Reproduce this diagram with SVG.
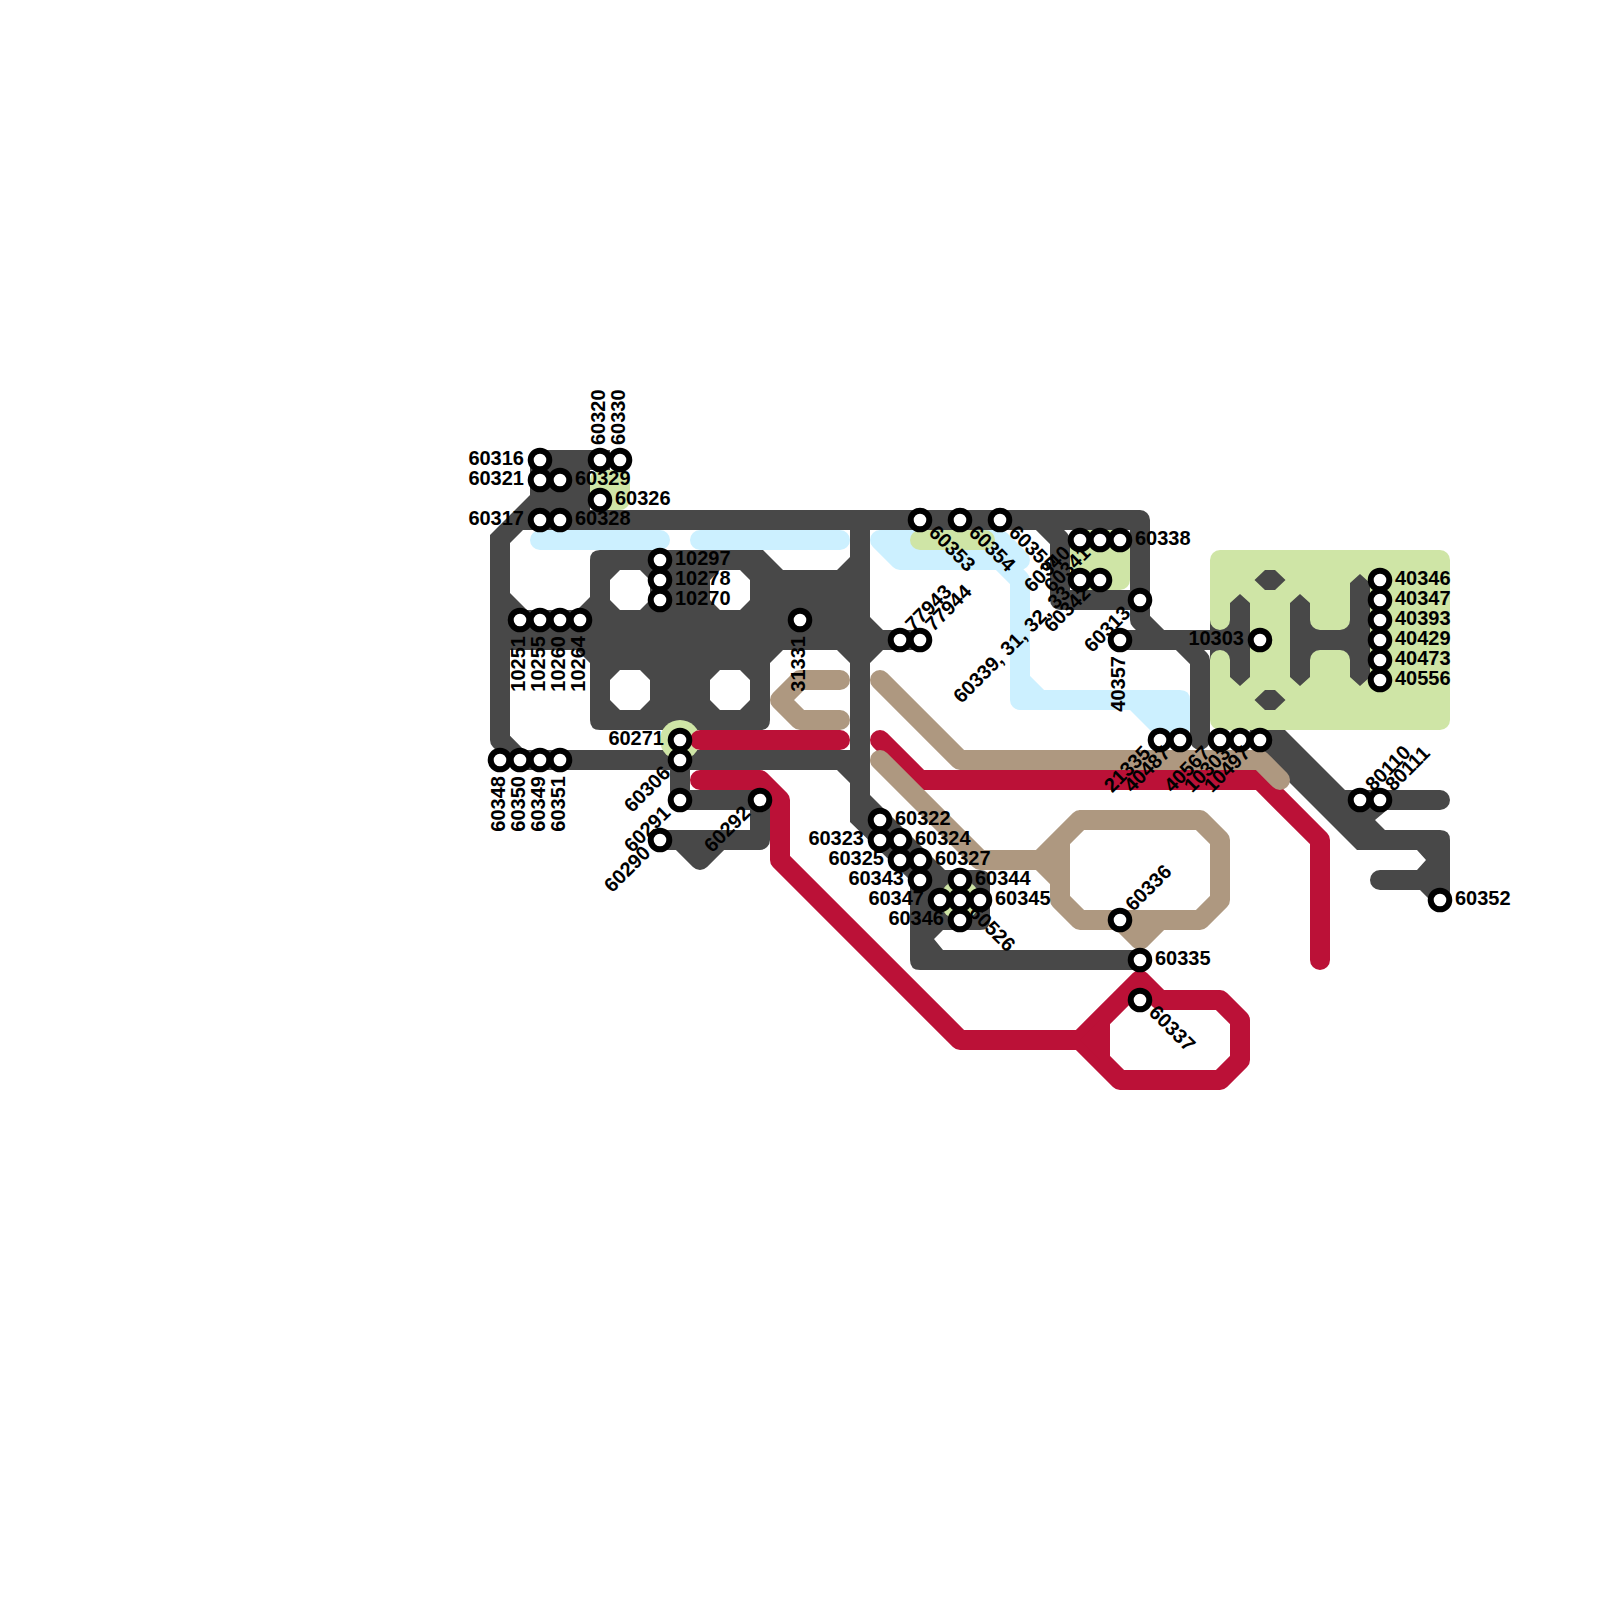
<svg xmlns="http://www.w3.org/2000/svg" width="1600" height="1600" viewBox="0 0 1600 1600">
<style>
text{font-family:"Liberation Sans",Arial,sans-serif;font-size:20px;font-weight:bold;fill:#000}
.n{fill:#fff;stroke:#000;stroke-width:6}
.e{text-anchor:end}
.ln{fill:none;stroke-width:20;stroke-linecap:round;stroke-linejoin:round}
.dk{stroke:#484848}.bl{stroke:#ccf0ff}.gr{stroke:#cfe5a6}.tn{stroke:#ae9880}.rd{stroke:#bb1137}
.fdk{fill:#484848}.fbl{fill:#ccf0ff}.fgr{fill:#cfe5a6}.ftn{fill:#ae9880}.frd{fill:#bb1137}
</style>
<defs>
<g id="st"><circle class="n" r="9.300"/></g>
</defs>
<rect width="1600" height="1600" fill="#fff"/>
<g id="connectors">
<path class="ln bl" d="M540,540H660M700,540H840M880,540H1000L1020,560M880,540L900,560H1000L1020,580V700H1140L1170,730M1020,680L1040,700"/>
<path class="fbl" d="M1130,690H1180Q1190,690 1190,700V730L1180,740H1160L1130,710Z"/>
<rect class="fgr" x="590" y="470" width="40" height="40" rx="10"/>
<rect class="fgr" x="910" y="530" width="85" height="20" rx="10"/>
<rect class="fgr" x="1070" y="530" width="60" height="60" rx="10"/>
<rect class="fgr" x="1210" y="550" width="240" height="180" rx="10"/>
<path class="ln dk" d="M520,520H1140V620L1160,640H1180L1200,660V740M1120,640H1240M500,560V740L520,760H860M1040,520L1060,540V600H1140M860,520V800M680,760V800H760V840H720L700,860L680,840H660M660,840H760"/>
<path class="fdk" d="M540,450H610V470H590V510H530V495L490,535V560H510V543L523,530H540V450ZM530,460Q530,450 540,450V510H530Z"/>
<path class="fdk" fill-rule="evenodd" d="M600,550H763L783,570H837L850,557V663L837,650H783L770,663V720Q770,730 760,730H600Q590,730 590,720V663L577,650H500V593H510L527,610H577L590,597V560Q590,550 600,550ZM620,570L610,580V600L620,610H640L650,600V580L640,570ZM720,570L710,580V600L720,610H740L750,600V580L740,570ZM620,670L610,680V700L620,710H640L650,700V680L640,670ZM720,670L710,680V700L720,710H740L750,700V680L740,670Z"/>
<path class="fdk" d="M870,617L883,630H920V650H883L870,663ZM837,770L850,783V770Z"/>
<path class="fdk" d="M850,780H870V795L945,870H980Q990,870 990,880V920Q990,930 980,930H943L934,939L943,950H1140V970H920Q910,970 910,960V880L850,822Z"/>
<circle class="fgr" cx="960" cy="900" r="20"/>
<circle class="fgr" cx="680" cy="740" r="20"/>
<path class="fdk" d="M1230,603L1240,594L1250,603V677L1240,686L1230,677V650H1210V630H1230ZM1290,603L1300,594L1310,603V630H1350V583L1360,574L1370,583V677L1360,686L1350,677V650H1310V677L1300,686L1290,677ZM1254.500,580L1265,570H1275L1285.500,580L1275,590H1265ZM1254.500,700L1265,690H1275L1285.500,700L1275,710H1265Z"/>
<path class="fdk" d="M1230,630V620A10,10 0 0 1 1220,630ZM1210,630V620A10,10 0 0 0 1220,630ZM1230,650V660A10,10 0 0 0 1220,650ZM1210,650V660A10,10 0 0 1 1220,650ZM1310,630V620A10,10 0 0 0 1320,630ZM1350,630V620A10,10 0 0 1 1340,630ZM1310,650V660A10,10 0 0 1 1320,650ZM1350,650V660A10,10 0 0 0 1340,650Z"/>
<path class="fdk" d="M1250,730H1285L1345,790H1440A10,10 0 0 1 1440,810H1387L1375,820L1385,830H1440Q1450,830 1450,840V900H1430L1420,890H1380A10,10 0 0 1 1380,870H1417L1426,860L1417,850H1357L1247,740Z"/>
<path class="ln rd" d="M700,740H840M700,780H760L780,800V860L960,1040H1080L1140,980L1160,1000H1220L1240,1020V1060L1220,1080H1120L1080,1040M1120,1000L1100,1020V1060L1120,1080M880,740L920,780H1260L1320,840V960"/>
<path class="frd" d="M1080,1040L1100,1020V1060ZM1140,980L1160,1000H1120Z"/>
<path class="ln tn" d="M840,680H800L780,700L800,720H840M880,680L960,760H1260L1280,780M880,760L980,860H1040L1080,820H1200L1220,840V900L1200,920H1080L1060,900V840L1080,820M1040,860L1060,880M1120,920L1140,940L1160,920"/>
<path class="ftn" d="M1040,860L1060,840V880ZM1120,920H1160L1140,940Z"/>
</g>
<g id="nodes">
<g id="n60526" transform="translate(960,900)"><use href="#st"/><text x="15" y="4" transform="rotate(45)">60526</text></g>
<g id="n60316" transform="translate(540,460)"><use href="#st"/><text class="e" x="-16" y="5">60316</text></g>
<g id="n60321" transform="translate(540,480)"><use href="#st"/><text class="e" x="-16" y="5">60321</text></g>
<g id="n60317" transform="translate(540,520)"><use href="#st"/><text class="e" x="-16" y="5">60317</text></g>
<g id="n60329" transform="translate(560,480)"><use href="#st"/><text x="15" y="5">60329</text></g>
<g id="n60328" transform="translate(560,520)"><use href="#st"/><text x="15" y="5">60328</text></g>
<g id="n60320" transform="translate(600,460)"><use href="#st"/><text x="15" y="5" transform="rotate(-90)">60320</text></g>
<g id="n60330" transform="translate(620,460)"><use href="#st"/><text x="15" y="5" transform="rotate(-90)">60330</text></g>
<g id="n60326" transform="translate(600,500)"><use href="#st"/><text x="15" y="5">60326</text></g>
<g id="n10297" transform="translate(660,560)"><use href="#st"/><text x="15" y="5">10297</text></g>
<g id="n10278" transform="translate(660,580)"><use href="#st"/><text x="15" y="5">10278</text></g>
<g id="n10270" transform="translate(660,600)"><use href="#st"/><text x="15" y="5">10270</text></g>
<g id="n10251" transform="translate(520,620)"><use href="#st"/><text class="e" x="-16" y="5" transform="rotate(-90)">10251</text></g>
<g id="n10255" transform="translate(540,620)"><use href="#st"/><text class="e" x="-16" y="5" transform="rotate(-90)">10255</text></g>
<g id="n10260" transform="translate(560,620)"><use href="#st"/><text class="e" x="-16" y="5" transform="rotate(-90)">10260</text></g>
<g id="n10264" transform="translate(580,620)"><use href="#st"/><text class="e" x="-16" y="5" transform="rotate(-90)">10264</text></g>
<g id="n31331" transform="translate(800,620)"><use href="#st"/><text class="e" x="-16" y="5" transform="rotate(-90)">31331</text></g>
<g id="n60271" transform="translate(680,740)"><use href="#st"/><text class="e" x="-16" y="5">60271</text></g>
<g id="n60306" transform="translate(680,760)"><use href="#st"/><text class="e" x="-16" y="4" transform="rotate(-45)">60306</text></g>
<g id="n60291" transform="translate(680,800)"><use href="#st"/><text class="e" x="-16" y="4" transform="rotate(-45)">60291</text></g>
<g id="n60292" transform="translate(760,800)"><use href="#st"/><text class="e" x="-16" y="4" transform="rotate(-45)">60292</text></g>
<g id="n60290" transform="translate(660,840)"><use href="#st"/><text class="e" x="-16" y="4" transform="rotate(-45)">60290</text></g>
<g id="n60348" transform="translate(500,760)"><use href="#st"/><text class="e" x="-16" y="5" transform="rotate(-90)">60348</text></g>
<g id="n60350" transform="translate(520,760)"><use href="#st"/><text class="e" x="-16" y="5" transform="rotate(-90)">60350</text></g>
<g id="n60349" transform="translate(540,760)"><use href="#st"/><text class="e" x="-16" y="5" transform="rotate(-90)">60349</text></g>
<g id="n60351" transform="translate(560,760)"><use href="#st"/><text class="e" x="-16" y="5" transform="rotate(-90)">60351</text></g>
<g id="n60322" transform="translate(880,820)"><use href="#st"/><text x="15" y="5">60322</text></g>
<g id="n60323" transform="translate(880,840)"><use href="#st"/><text class="e" x="-16" y="5">60323</text></g>
<g id="n60324" transform="translate(900,840)"><use href="#st"/><text x="15" y="5">60324</text></g>
<g id="n60325" transform="translate(900,860)"><use href="#st"/><text class="e" x="-16" y="5">60325</text></g>
<g id="n60327" transform="translate(920,860)"><use href="#st"/><text x="15" y="5">60327</text></g>
<g id="n60343" transform="translate(920,880)"><use href="#st"/><text class="e" x="-16" y="5">60343</text></g>
<g id="n60344" transform="translate(960,880)"><use href="#st"/><text x="15" y="5">60344</text></g>
<g id="n60347" transform="translate(940,900)"><use href="#st"/><text class="e" x="-16" y="5">60347</text></g>
<g id="n60345" transform="translate(980,900)"><use href="#st"/><text x="15" y="5">60345</text></g>
<g id="n60346" transform="translate(960,920)"><use href="#st"/><text class="e" x="-16" y="5">60346</text></g>
<g id="n77943" transform="translate(900,640)"><use href="#st"/><text x="15" y="4" transform="rotate(-45)">77943</text></g>
<g id="n77944" transform="translate(920,640)"><use href="#st"/><text x="15" y="4" transform="rotate(-45)">77944</text></g>
<g id="n60353" transform="translate(920,520)"><use href="#st"/><text x="15" y="4" transform="rotate(45)">60353</text></g>
<g id="n60354" transform="translate(960,520)"><use href="#st"/><text x="15" y="4" transform="rotate(45)">60354</text></g>
<g id="n60355" transform="translate(1000,520)"><use href="#st"/><text x="15" y="4" transform="rotate(45)">60355</text></g>
<g id="n60340" transform="translate(1080,540)"><use href="#st"/><text class="e" x="-16" y="4" transform="rotate(-45)">60340</text></g>
<g id="n60341" transform="translate(1100,540)"><use href="#st"/><text class="e" x="-16" y="4" transform="rotate(-45)">60341</text></g>
<g id="n60338" transform="translate(1120,540)"><use href="#st"/><text x="15" y="5">60338</text></g>
<g id="n60339" transform="translate(1080,580)"><use href="#st"/><text class="e" x="-16" y="4" transform="rotate(-45)">60339, 31, 32, 33</text></g>
<g id="n60342" transform="translate(1100,580)"><use href="#st"/><text class="e" x="-16" y="4" transform="rotate(-45)">60342</text></g>
<g id="n60313" transform="translate(1140,600)"><use href="#st"/><text class="e" x="-16" y="4" transform="rotate(-45)">60313</text></g>
<g id="n40357" transform="translate(1120,640)"><use href="#st"/><text class="e" x="-16" y="5" transform="rotate(-90)">40357</text></g>
<g id="n10303" transform="translate(1260,640)"><use href="#st"/><text class="e" x="-16" y="5">10303</text></g>
<g id="n21335" transform="translate(1160,740)"><use href="#st"/><text class="e" x="-16" y="4" transform="rotate(-45)">21335</text></g>
<g id="n40487" transform="translate(1180,740)"><use href="#st"/><text class="e" x="-16" y="4" transform="rotate(-45)">40487</text></g>
<g id="n40567" transform="translate(1220,740)"><use href="#st"/><text class="e" x="-16" y="4" transform="rotate(-45)">40567</text></g>
<g id="n10303b" transform="translate(1240,740)"><use href="#st"/><text class="e" x="-16" y="4" transform="rotate(-45)">10303</text></g>
<g id="n10497" transform="translate(1260,740)"><use href="#st"/><text class="e" x="-16" y="4" transform="rotate(-45)">10497</text></g>
<g id="n40346" transform="translate(1380,580)"><use href="#st"/><text x="15" y="5">40346</text></g>
<g id="n40347" transform="translate(1380,600)"><use href="#st"/><text x="15" y="5">40347</text></g>
<g id="n40393" transform="translate(1380,620)"><use href="#st"/><text x="15" y="5">40393</text></g>
<g id="n40429" transform="translate(1380,640)"><use href="#st"/><text x="15" y="5">40429</text></g>
<g id="n40473" transform="translate(1380,660)"><use href="#st"/><text x="15" y="5">40473</text></g>
<g id="n40556" transform="translate(1380,680)"><use href="#st"/><text x="15" y="5">40556</text></g>
<g id="n80110" transform="translate(1360,800)"><use href="#st"/><text x="15" y="4" transform="rotate(-45)">80110</text></g>
<g id="n80111" transform="translate(1380,800)"><use href="#st"/><text x="15" y="4" transform="rotate(-45)">80111</text></g>
<g id="n60352" transform="translate(1440,900)"><use href="#st"/><text x="15" y="5">60352</text></g>
<g id="n60336" transform="translate(1120,920)"><use href="#st"/><text x="15" y="4" transform="rotate(-45)">60336</text></g>
<g id="n60335" transform="translate(1140,960)"><use href="#st"/><text x="15" y="5">60335</text></g>
<g id="n60337" transform="translate(1140,1000)"><use href="#st"/><text x="15" y="4" transform="rotate(45)">60337</text></g>
</g>
</svg>
